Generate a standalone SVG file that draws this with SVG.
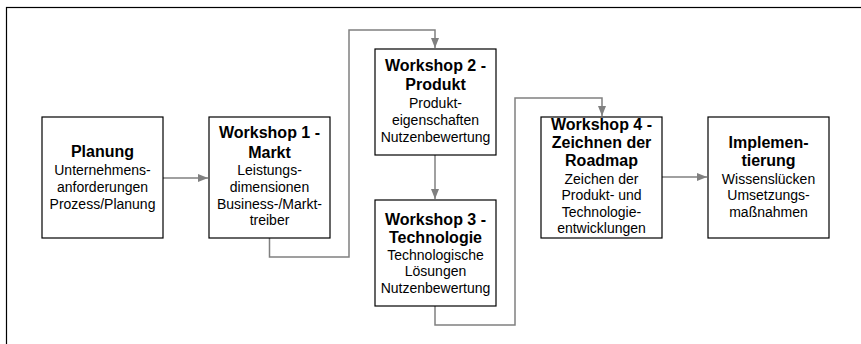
<svg xmlns="http://www.w3.org/2000/svg" width="861" height="344" viewBox="0 0 861 344">
<style>
.box{fill:#fff;stroke:#000;stroke-width:1.2}
.t{font-family:"Liberation Sans",Arial,sans-serif;font-weight:bold;font-size:16px;fill:#000;text-anchor:middle}
.b{font-family:"Liberation Sans",Arial,sans-serif;font-size:14px;fill:#000;text-anchor:middle}
.c{fill:none;stroke:#808080;stroke-width:1.5}
</style>
<defs>
<marker id="ah" markerWidth="10" markerHeight="8" refX="10" refY="4" orient="auto" markerUnits="userSpaceOnUse">
<path d="M0,0 L10,4 L0,8 Z" fill="#808080"/>
</marker>
</defs>
<rect width="861" height="344" fill="#fff"/>
<rect x="6.5" y="7.5" width="900" height="400" fill="none" stroke="#000" stroke-width="1.2"/>
<g id="connectors">
<path class="c" d="M163,178 H208" marker-end="url(#ah)"/>
<path class="c" d="M269.5,238 V257 H349 V30 H435 V48" marker-end="url(#ah)"/>
<path class="c" d="M435,155 V199" marker-end="url(#ah)"/>
<path class="c" d="M435,306 V325 H515 V98 H602 V116" marker-end="url(#ah)"/>
<path class="c" d="M662,177 H707" marker-end="url(#ah)"/>
</g>
<g id="planung">
<rect class="box" x="42" y="117" width="121" height="121"/>
<text class="t" x="102.5" y="157">Planung</text>
<text class="b" x="102.5" y="175">Unternehmens-</text>
<text class="b" x="102.5" y="192">anforderungen</text>
<text class="b" x="102.5" y="208.5">Prozess/Planung</text>
</g>
<g id="ws1">
<rect class="box" x="209" y="117" width="121" height="121"/>
<text class="t" x="269.5" y="138">Workshop 1 -</text>
<text class="t" x="269.5" y="158">Markt</text>
<text class="b" x="269.5" y="175">Leistungs-</text>
<text class="b" x="269.5" y="192">dimensionen</text>
<text class="b" x="269.5" y="208.5">Business-/Markt-</text>
<text class="b" x="269.5" y="225">treiber</text>
</g>
<g id="ws2">
<rect class="box" x="375" y="49" width="121" height="106"/>
<text class="t" x="435.5" y="71">Workshop 2 -</text>
<text class="t" x="435.5" y="90">Produkt</text>
<text class="b" x="435.5" y="108">Produkt-</text>
<text class="b" x="435.5" y="125">eigenschaften</text>
<text class="b" x="435.5" y="141.5">Nutzenbewertung</text>
</g>
<g id="ws3">
<rect class="box" x="375" y="200" width="121" height="106"/>
<text class="t" x="435.5" y="225">Workshop 3 -</text>
<text class="t" x="435.5" y="243">Technologie</text>
<text class="b" x="435.5" y="259.5">Technologische</text>
<text class="b" x="435.5" y="276">Lösungen</text>
<text class="b" x="435.5" y="292.5">Nutzenbewertung</text>
</g>
<g id="ws4">
<rect class="box" x="541" y="117" width="121" height="121"/>
<text class="t" x="601.5" y="130">Workshop 4 -</text>
<text class="t" x="601.5" y="148">Zeichnen der</text>
<text class="t" x="601.5" y="166">Roadmap</text>
<text class="b" x="601.5" y="183.5">Zeichen der</text>
<text class="b" x="601.5" y="200">Produkt- und</text>
<text class="b" x="601.5" y="216.5">Technologie-</text>
<text class="b" x="601.5" y="233">entwicklungen</text>
</g>
<g id="impl">
<rect class="box" x="708" y="117" width="121" height="121"/>
<text class="t" x="768.5" y="148">Implemen-</text>
<text class="t" x="768.5" y="166">tierung</text>
<text class="b" x="768.5" y="183.5">Wissenslücken</text>
<text class="b" x="768.5" y="200">Umsetzungs-</text>
<text class="b" x="768.5" y="216.5">maßnahmen</text>
</g>
</svg>
